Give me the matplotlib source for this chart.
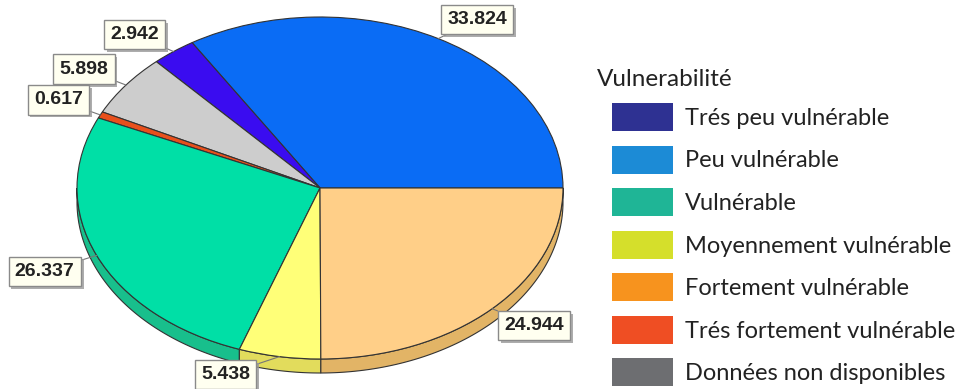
import numpy as np
import matplotlib.pyplot as plt
from matplotlib.patches import Patch, Polygon
import matplotlib.patheffects as pe

categories = ['Trés peu vulnérable', 'Peu vulnérable', 'Vulnérable',
              'Moyennement vulnérable', 'Fortement vulnérable',
              'Trés fortement vulnérable', 'Données non disponibles']
values = [2.942, 33.824, 26.337, 5.438, 24.944, 0.617, 5.898]

# order of the slices, counter-clockwise from 3 o'clock
pie_order = [1, 0, 6, 5, 2, 3, 4]

legend_colors = ['#2e3192', '#1c8bd6', '#1fb596', '#d5df2b',
                 '#f7931e', '#ef4e23', '#6d6e71']
top_colors = ['#3a0cf0', '#0a6cf5', '#00dfa6', '#ffff78',
              '#ffcf88', '#e8501c', '#cdcdcd']
side_colors = ['#2c08b8', '#0852bb', '#18bf8c', '#e2dc5c',
               '#e2b466', '#b83c14', '#a8a8a8']

# where each value box sits, in pixels from the rim midpoint of its slice
label_offsets = {0: (-39, 17), 1: (39, 19), 2: (-52, -16), 3: (-54, -18),
                 4: (42, -17), 5: (-42, 15), 6: (-42, 16)}

W, H = 972, 389
cx, cy, rx, ry = 320, 201, 243, 171   # pie centre and radii, pixels
depth = 14 / ry

fig = plt.figure(figsize=(W / 100, H / 100), dpi=100)
ax = fig.add_axes([0, 0, 1, 1])

wedges, _ = ax.pie([values[i] for i in pie_order],
                   colors=[top_colors[i] for i in pie_order],
                   startangle=0, counterclock=True, radius=1,
                   wedgeprops=dict(edgecolor='#333333', linewidth=0.8, zorder=2))

# side wall of the tilted disc (only the front half shows)
for k, w in enumerate(wedges):
    a, b = max(w.theta1, 180), min(w.theta2, 360)
    if a >= b:
        continue
    t = np.radians(np.linspace(a, b, 80))
    xs, ys = np.cos(t), np.sin(t)
    pts = np.vstack([np.column_stack([xs, ys]),
                     np.column_stack([xs[::-1], ys[::-1] - depth])])
    ax.add_patch(Polygon(pts, closed=True, facecolor=side_colors[pie_order[k]],
                         edgecolor='#333333', linewidth=0.8, zorder=1))

# value boxes
for k, w in enumerate(wedges):
    cat = pie_order[k]
    mid = np.radians((w.theta1 + w.theta2) / 2)
    ann = ax.annotate(f'{values[cat]:.3f}', xy=(np.cos(mid), np.sin(mid)),
                      xytext=label_offsets[cat], textcoords='offset pixels',
                      ha='center', va='center', fontsize=14, fontweight='bold',
                      family='Liberation Sans', color='#222222',
                      bbox=dict(boxstyle='square,pad=0.32', fc='#fffff0',
                                ec='#8a8a8a', lw=1),
                      arrowprops=dict(arrowstyle='-', color='#777777', lw=0.8,
                                      shrinkA=0, shrinkB=0),
                      zorder=5)
    ann.get_bbox_patch().set_path_effects(
        [pe.withSimplePatchShadow(offset=(2, -2), shadow_rgbFace='#999999', alpha=0.8)])

ax.set_xlim(-cx / rx, (W - cx) / rx)
ax.set_ylim(-cy / ry, (H - cy) / ry)
ax.set_aspect('auto')
ax.axis('off')

fig.text(597 / W, 1 - 80 / H, 'Vulnerabilité', fontsize=17.5, family='Lato',
         va='center', ha='left', color='#222222')
handles = [Patch(facecolor=c, edgecolor='none') for c in legend_colors]
fig.legend(handles, categories, loc='upper left',
           bbox_to_anchor=(612 / W, 1 - 103 / H), frameon=False,
           prop={'family': 'Lato', 'size': 17}, labelcolor='#222222',
           handlelength=2.58, handleheight=1.47, handletextpad=0.5,
           labelspacing=0.6, borderpad=0, borderaxespad=0)

fig.savefig('out.png', dpi=100)
